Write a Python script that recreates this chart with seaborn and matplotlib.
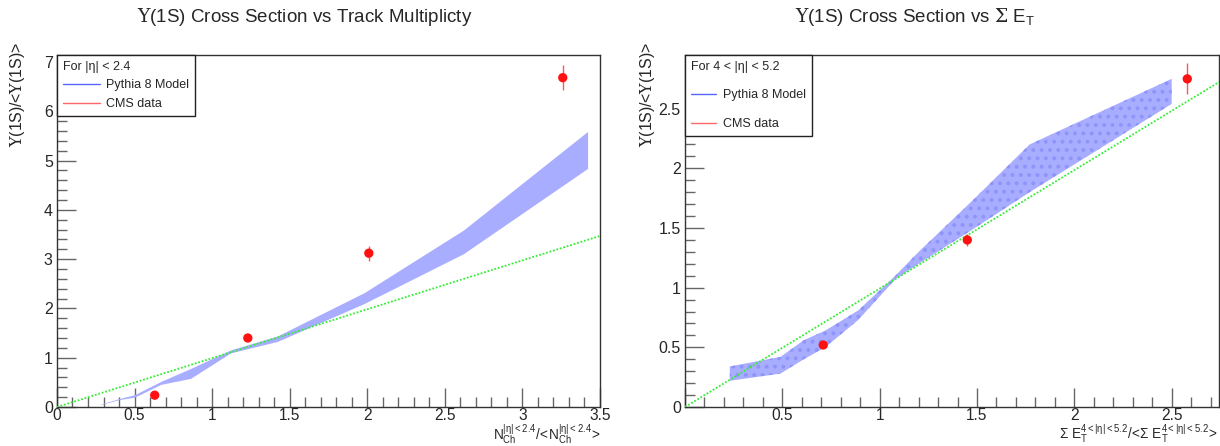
import numpy as np
import pandas as pd
import matplotlib
matplotlib.use("Agg")
import matplotlib.pyplot as plt
from matplotlib.lines import Line2D
from matplotlib.ticker import MultipleLocator, FuncFormatter
import seaborn as sns

# ---------------- data ----------------
# Left panel: track multiplicity
mult_band_x = [0.28, 0.40, 0.50, 0.67, 0.86, 1.12, 1.42, 1.98, 2.62, 3.42]
mult_band_lo = [0.05, 0.15, 0.20, 0.46, 0.58, 1.10, 1.33, 2.10, 3.11, 4.84]
mult_band_hi = [0.06, 0.17, 0.25, 0.52, 0.78, 1.16, 1.44, 2.32, 3.59, 5.59]
mult_cms_x = [0.63, 1.23, 2.01, 3.26]
mult_cms_y = [0.24, 1.40, 3.12, 6.68]
mult_cms_err = [0.03, 0.04, 0.15, 0.26]
mult_fit_x = [0.0, 3.5]
mult_fit_y = [0.0, 3.47]

# Right panel: sum E_T
et_band_x = [0.23, 0.49, 0.61, 0.72, 0.89, 1.08, 1.20, 1.47, 1.77, 2.50]
et_band_lo = [0.22, 0.28, 0.40, 0.50, 0.73, 1.07, 1.20, 1.48, 1.80, 2.54]
et_band_hi = [0.34, 0.42, 0.56, 0.64, 0.81, 1.10, 1.30, 1.72, 2.20, 2.75]
et_cms_x = [0.71, 1.45, 2.58]
et_cms_y = [0.52, 1.40, 2.75]
et_cms_err = [0.02, 0.05, 0.13]
et_fit_x = [0.0, 2.75]
et_fit_y = [0.0, 2.73]

UPS = r"$\mathsf{\Upsilon}$"
titles = [UPS + "(1S) Cross Section vs Track Multiplicty",
          UPS + r"(1S) Cross Section vs $\mathsf{\Sigma}$ E$_\mathregular{T}$"]
ylabel = UPS + "(1S)/<" + UPS + "(1S)>"
xlabels = [r"$\mathregular{N_{Ch}^{|\eta|<2.4}/\!<\!N_{Ch}^{|\eta|<2.4}\!>}$",
           r"$\mathregular{\Sigma\ E_{T}^{4<|\eta|<5.2}/\!<\!\Sigma\ E_{T}^{4<|\eta|<5.2}\!>}$"]
legend_titles = ["For |\u03b7| < 2.4", "For 4 < |\u03b7| < 5.2"]
legend_labels = ["Pythia 8 Model", "CMS data"]

# ---------------- style ----------------
sns.set_theme(style="ticks")
plt.rcParams["font.family"] = ["Liberation Sans", "DejaVu Sans"]
plt.rcParams["mathtext.fontset"] = "custom"
plt.rcParams["mathtext.rm"] = "Liberation Sans"
plt.rcParams["mathtext.it"] = "Liberation Sans"
plt.rcParams["mathtext.sf"] = "DejaVu Serif"
plt.rcParams["hatch.linewidth"] = 1.6

fig = plt.figure(figsize=(12.2, 4.46), dpi=100)
ax1 = fig.add_axes([0.0467, 0.0874, 0.4451, 0.7893])
ax2 = fig.add_axes([0.5615, 0.0874, 0.4380, 0.7893])

band_col = (0.66, 0.68, 1.0)
specs = [
    (ax1, mult_band_x, mult_band_lo, mult_band_hi, mult_cms_x, mult_cms_y, mult_cms_err,
     mult_fit_x, mult_fit_y, (0, 3.5), (0, 7.14), 0.5, 0.1, 1, 0.2, None),
    (ax2, et_band_x, et_band_lo, et_band_hi, et_cms_x, et_cms_y, et_cms_err,
     et_fit_x, et_fit_y, (0, 2.745), (0, 2.95), 0.5, 0.1, 0.5, 0.1, ".."),
]

leg_cfg = [
    dict(fontsize=9, handlelength=3.0, labelspacing=0.55, borderpad=0.45, handletextpad=0.5),
    dict(fontsize=9, handlelength=2.0, labelspacing=1.35, borderpad=0.45, handletextpad=0.6),
]

for i, (ax, bx, blo, bhi, cx, cy, ce, fx, fy, xl, yl, xmaj, xmin, ymaj, ymin, hatch) in enumerate(specs):
    ax.fill_between(bx, blo, bhi, facecolor=band_col,
                    edgecolor=(0.56, 0.58, 0.98) if hatch else band_col,
                    hatch=hatch, linewidth=0, zorder=2)
    fit = pd.DataFrame({"x": fx, "y": fy})
    sns.lineplot(data=fit, x="x", y="y", ax=ax, color="#33ee33", linestyle=(0, (1, 1)),
                 linewidth=1.3, zorder=3)
    ax.errorbar(cx, cy, yerr=ce, fmt="none", ecolor="#ff5555", elinewidth=1.0, zorder=4)
    pts = pd.DataFrame({"x": cx, "y": cy})
    sns.scatterplot(data=pts, x="x", y="y", ax=ax, color="#ff1111", s=45, edgecolor="none",
                    zorder=5)
    ax.set_xlim(*xl)
    ax.set_ylim(*yl)
    ax.xaxis.set_major_locator(MultipleLocator(xmaj))
    ax.xaxis.set_minor_locator(MultipleLocator(xmin))
    ax.yaxis.set_major_locator(MultipleLocator(ymaj))
    ax.yaxis.set_minor_locator(MultipleLocator(ymin))
    ax.tick_params(which="major", direction="in", length=14, width=1.0, color="#666666",
                   labelsize=11.5, top=False, right=False, pad=3)
    ax.tick_params(axis="x", which="major", pad=1.0, labelsize=11.2)
    ax.tick_params(which="minor", direction="in", length=7, width=1.0, color="#666666",
                   top=False, right=False)
    if i == 0:
        ax.xaxis.set_major_formatter(FuncFormatter(lambda v, p: f"{v:g}"))
    else:
        ax.xaxis.set_major_formatter(FuncFormatter(lambda v, p: "" if abs(v) < 1e-9 else f"{v:g}"))
    ax.yaxis.set_major_formatter(FuncFormatter(lambda v, p: f"{v:g}"))
    for s in ax.spines.values():
        s.set_color("#333333")
        s.set_linewidth(1.0)
    ax.set_xlabel("")
    ax.set_ylabel("")
    # legend
    handles = [Line2D([], [], color="#5566ff", lw=1.0), Line2D([], [], color="#ff6666", lw=1.0)]
    c = leg_cfg[i]
    leg = ax.legend(handles, legend_labels, title=legend_titles[i], loc="upper left",
                    borderaxespad=0.0, fontsize=c["fontsize"], title_fontsize=c["fontsize"],
                    frameon=True, fancybox=False, handlelength=c["handlelength"],
                    labelspacing=c["labelspacing"], borderpad=c["borderpad"],
                    handletextpad=c["handletextpad"], alignment="left")
    leg.get_frame().set_edgecolor("#222222")
    leg.get_frame().set_linewidth(1.0)
    leg.get_frame().set_alpha(1.0)
    leg.set_zorder(10)

# titles
fig.text(0.250, 0.962, titles[0], ha="center", va="center", fontsize=13.5)
fig.text(0.750, 0.962, titles[1], ha="center", va="center", fontsize=13.5)

# y labels (top aligned)
fig.text(0.014, 0.905, ylabel, rotation=90, ha="center", va="top", fontsize=11.5)
fig.text(0.531, 0.905, ylabel, rotation=90, ha="center", va="top", fontsize=11.5)

# x labels (right aligned)
fig.text(0.4918, 0.001, xlabels[0], ha="right", va="bottom", fontsize=9.8)
fig.text(0.998, 0.001, xlabels[1], ha="right", va="bottom", fontsize=9.8)

fig.savefig("out.png", dpi=100)
